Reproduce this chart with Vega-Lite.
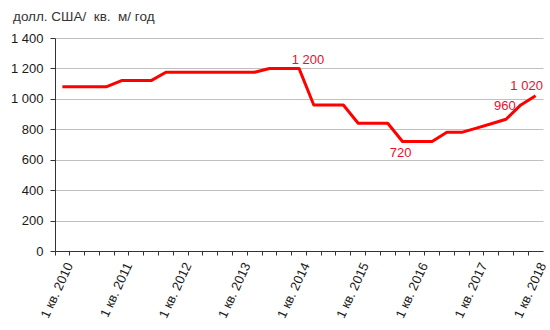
{
  "$schema": "https://vega.github.io/schema/vega-lite/v6.json",
  "autosize": {"type": "none"},
  "width": 488,
  "height": 213,
  "padding": {"left": 55, "top": 38, "right": 7, "bottom": 79},
  "background": "white",
  "config": {
    "locale": {"number": {"decimal": ",", "thousands": " ", "grouping": [3], "currency": ["", " ₽"]}},
    "view": {"stroke": null},
    "font": "Liberation Sans"
  },
  "title": {"text": "долл. США/\u00a0 кв.\u00a0 м/ год", "anchor": "start", "frame": "group", "dx": -42, "offset": 9, "fontSize": 13.5, "font": "Liberation Sans", "fontWeight": "normal", "color": "#333333"},
  "data": {"values": [
    {"q": "1 кв. 2010", "v": 1080}, {"q": "2 кв. 2010", "v": 1080}, {"q": "3 кв. 2010", "v": 1080}, {"q": "4 кв. 2010", "v": 1080},
    {"q": "1 кв. 2011", "v": 1120}, {"q": "2 кв. 2011", "v": 1120}, {"q": "3 кв. 2011", "v": 1120}, {"q": "4 кв. 2011", "v": 1175},
    {"q": "1 кв. 2012", "v": 1175}, {"q": "2 кв. 2012", "v": 1175}, {"q": "3 кв. 2012", "v": 1175}, {"q": "4 кв. 2012", "v": 1175},
    {"q": "1 кв. 2013", "v": 1175}, {"q": "2 кв. 2013", "v": 1175}, {"q": "3 кв. 2013", "v": 1200}, {"q": "4 кв. 2013", "v": 1200},
    {"q": "1 кв. 2014", "v": 1200}, {"q": "2 кв. 2014", "v": 960}, {"q": "3 кв. 2014", "v": 960}, {"q": "4 кв. 2014", "v": 960},
    {"q": "1 кв. 2015", "v": 840}, {"q": "2 кв. 2015", "v": 840}, {"q": "3 кв. 2015", "v": 840}, {"q": "4 кв. 2015", "v": 720},
    {"q": "1 кв. 2016", "v": 720}, {"q": "2 кв. 2016", "v": 720}, {"q": "3 кв. 2016", "v": 780}, {"q": "4 кв. 2016", "v": 780},
    {"q": "1 кв. 2017", "v": 808}, {"q": "2 кв. 2017", "v": 836}, {"q": "3 кв. 2017", "v": 866}, {"q": "4 кв. 2017", "v": 960},
    {"q": "1 кв. 2018", "v": 1020}
  ]},
  "encoding": {
    "x": {
      "field": "q", "type": "ordinal", "sort": null,
      "scale": {"type": "band", "paddingInner": 0, "paddingOuter": 0},
      "axis": {
        "title": null, "bandPosition": 0, "labelOffset": 7.4,
        "labelAngle": -65, "labelAlign": "right", "labelBaseline": "middle",
        "labelExpr": "substring(datum.value, 0, 2) == '1 ' ? datum.value : ''",
        "labelOverlap": false, "labelBound": false, "labelPadding": 8,
        "labelFontSize": 13, "labelFont": "Liberation Sans", "labelColor": "#1a1a1a",
        "tickSize": 4, "tickColor": "#333333", "domainColor": "#333333", "domainWidth": 1, "grid": false
      }
    },
    "y": {
      "field": "v", "type": "quantitative",
      "scale": {"domain": [0, 1400], "nice": false, "zero": true},
      "axis": {
        "title": null, "values": [0, 200, 400, 600, 800, 1000, 1200, 1400], "format": ",d",
        "labelFontSize": 13, "labelFont": "Liberation Sans", "labelColor": "#1a1a1a", "labelPadding": 7,
        "tickSize": 5, "tickColor": "#333333", "domainColor": "#333333", "domainWidth": 1,
        "grid": true, "gridColor": "#c0c0c0", "gridWidth": 1
      }
    }
  },
  "layer": [
    {"mark": {"type": "line", "color": "#ff0000", "strokeWidth": 3, "strokeJoin": "round"}},
    {"transform": [{"filter": "datum.q == '1 кв. 2014'"}], "mark": {"type": "text", "color": "#e8102e", "fontSize": 13, "font": "Liberation Sans", "dx": 9, "dy": -8}, "encoding": {"text": {"field": "v", "type": "quantitative", "format": ",d"}}},
    {"transform": [{"filter": "datum.q == '4 кв. 2015'"}], "mark": {"type": "text", "color": "#e8102e", "fontSize": 13, "font": "Liberation Sans", "dx": -2, "dy": 12}, "encoding": {"text": {"field": "v", "type": "quantitative", "format": ",d"}}},
    {"transform": [{"filter": "datum.q == '4 кв. 2017'"}], "mark": {"type": "text", "color": "#e8102e", "fontSize": 13, "font": "Liberation Sans", "align": "right", "dx": -5, "dy": 1}, "encoding": {"text": {"field": "v", "type": "quantitative", "format": ",d"}}},
    {"transform": [{"filter": "datum.q == '1 кв. 2018'"}], "mark": {"type": "text", "color": "#e8102e", "fontSize": 13, "font": "Liberation Sans", "dx": -9, "dy": -10}, "encoding": {"text": {"field": "v", "type": "quantitative", "format": ",d"}}}
  ]
}
